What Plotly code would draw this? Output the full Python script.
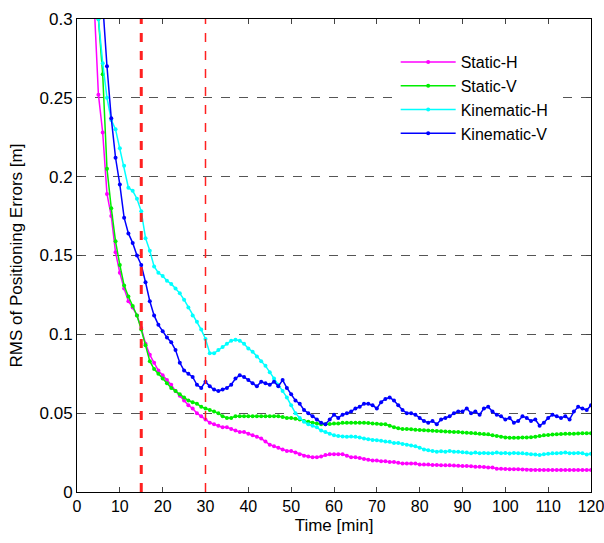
import plotly.graph_objects as go

# ---- data ----
time_min = list(range(3, 121))

static_h = [0.40, 0.31, 0.252, 0.228, 0.189, 0.175, 0.152, 0.139, 0.129, 0.121,
            0.117, 0.112, 0.104, 0.094, 0.087, 0.082, 0.077, 0.074, 0.071, 0.068,
            0.064, 0.061, 0.058, 0.055, 0.053, 0.050, 0.048, 0.046, 0.044, 0.043,
            0.042, 0.041, 0.041, 0.040, 0.039, 0.038, 0.038, 0.037, 0.036, 0.035,
            0.034, 0.032, 0.030, 0.029, 0.028, 0.027, 0.026, 0.026, 0.025, 0.024,
            0.023, 0.0225, 0.022, 0.022, 0.0225, 0.0235, 0.024, 0.024, 0.024, 0.024,
            0.023, 0.022, 0.022, 0.0215, 0.021, 0.0205, 0.020, 0.020, 0.0195, 0.0195,
            0.019, 0.019, 0.0185, 0.018, 0.018, 0.018, 0.018, 0.0175, 0.0175, 0.0175,
            0.0172, 0.0172, 0.017, 0.017, 0.017, 0.0168, 0.0167, 0.0165, 0.0165, 0.0163,
            0.016, 0.016, 0.0158, 0.0155, 0.0155, 0.0148, 0.0147, 0.0146, 0.0145, 0.0145,
            0.0145, 0.0142, 0.0141, 0.014, 0.014, 0.014, 0.014, 0.014, 0.014, 0.014,
            0.014, 0.014, 0.014, 0.014, 0.014, 0.014, 0.014, 0.014]

static_v = [0.45, 0.37, 0.30, 0.265, 0.205, 0.180, 0.159, 0.144, 0.131, 0.124,
            0.118, 0.112, 0.103, 0.093, 0.083, 0.078, 0.075, 0.072, 0.069, 0.066,
            0.064, 0.062, 0.060, 0.058, 0.057, 0.056, 0.054, 0.053, 0.052, 0.051,
            0.050, 0.048, 0.047, 0.047, 0.048, 0.048, 0.048, 0.048, 0.048, 0.048,
            0.048, 0.048, 0.048, 0.048, 0.048, 0.0475, 0.047, 0.047, 0.0465, 0.046,
            0.045, 0.0445, 0.044, 0.0435, 0.043, 0.043, 0.0432, 0.0435, 0.0435, 0.044,
            0.044, 0.044, 0.044, 0.044, 0.044, 0.0438, 0.0435, 0.0433, 0.043, 0.043,
            0.042, 0.041, 0.0405, 0.040, 0.040, 0.0398, 0.0395, 0.0393, 0.0392, 0.039,
            0.0389, 0.0387, 0.0385, 0.0384, 0.0382, 0.0381, 0.038, 0.0378, 0.0376, 0.0374,
            0.0372, 0.037, 0.0368, 0.0366, 0.036, 0.0355, 0.035, 0.0346, 0.0344, 0.0344,
            0.0344, 0.0345, 0.0346, 0.0347, 0.035, 0.0355, 0.036, 0.0362, 0.0364, 0.0366,
            0.0368, 0.0369, 0.037, 0.037, 0.0371, 0.0372, 0.0372, 0.0372]

kinematic_h = [0.45, 0.36, 0.30, 0.272, 0.250, 0.236, 0.230, 0.218, 0.207, 0.193,
               0.191, 0.186, 0.178, 0.161, 0.153, 0.143, 0.139, 0.137, 0.134, 0.132,
               0.129, 0.126, 0.122, 0.117, 0.112, 0.108, 0.103, 0.097, 0.088, 0.088,
               0.090, 0.092, 0.094, 0.096, 0.0965, 0.096, 0.094, 0.091, 0.089, 0.086,
               0.083, 0.080, 0.076, 0.072, 0.068, 0.064, 0.060, 0.055, 0.050, 0.047,
               0.0445, 0.043, 0.042, 0.041, 0.039, 0.038, 0.037, 0.036, 0.0355, 0.0352,
               0.035, 0.0352, 0.035, 0.0345, 0.034, 0.0335, 0.033, 0.0328, 0.0325, 0.032,
               0.0318, 0.031, 0.031, 0.0305, 0.030, 0.0295, 0.029, 0.028, 0.027, 0.0265,
               0.026, 0.0256, 0.0258, 0.0255, 0.026, 0.0255, 0.0256, 0.0252, 0.025, 0.0245,
               0.025, 0.0245, 0.0248, 0.0245, 0.0246, 0.025, 0.0245, 0.0248, 0.0244, 0.0248,
               0.0245, 0.0246, 0.0243, 0.024, 0.0238, 0.0235, 0.024, 0.0243, 0.0245, 0.0246,
               0.0248, 0.025, 0.0246, 0.0245, 0.0248, 0.0246, 0.0238, 0.0242]

kinematic_v = [0.50, 0.42, 0.36, 0.31, 0.270, 0.237, 0.212, 0.195, 0.174, 0.164,
               0.158, 0.150, 0.144, 0.133, 0.121, 0.112, 0.106, 0.102, 0.098, 0.095,
               0.090, 0.082, 0.077, 0.075, 0.073, 0.068, 0.066, 0.070, 0.067, 0.065,
               0.064, 0.065, 0.066, 0.068, 0.072, 0.074, 0.073, 0.071, 0.069, 0.067,
               0.070, 0.069, 0.068, 0.070, 0.067, 0.071, 0.066, 0.062, 0.058, 0.056,
               0.052, 0.050, 0.048, 0.046, 0.044, 0.043, 0.046, 0.049, 0.047, 0.049,
               0.050, 0.051, 0.053, 0.054, 0.056, 0.056, 0.055, 0.053, 0.057, 0.059,
               0.060, 0.058, 0.055, 0.052, 0.050, 0.050, 0.049, 0.047, 0.045, 0.044,
               0.045, 0.043, 0.046, 0.047, 0.048, 0.050, 0.051, 0.051, 0.053, 0.050,
               0.051, 0.049, 0.053, 0.054, 0.051, 0.049, 0.048, 0.046, 0.047, 0.044,
               0.045, 0.048, 0.047, 0.045, 0.046, 0.042, 0.044, 0.047, 0.049, 0.048,
               0.047, 0.048, 0.046, 0.051, 0.054, 0.053, 0.052, 0.055]

series_names = ["Static-H", "Static-V", "Kinematic-H", "Kinematic-V"]
series_colors = ["#ff00ff", "#00ee00", "#00ffff", "#0000ff"]
series_values = [static_h, static_v, kinematic_h, kinematic_v]

marker_lines = [15, 30]          # vertical reference lines [min]
marker_widths = [3, 1.5]

x_ticks = list(range(0, 121, 10))
y_ticks = [0, 0.05, 0.1, 0.15, 0.2, 0.25, 0.3]
y_tick_text = ["0", "0.05", "0.1", "0.15", "0.2", "0.25", "0.3"]

FONT = "Liberation Sans, Arial, Helvetica, sans-serif"

fig = go.Figure()
for name, color, vals in zip(series_names, series_colors, series_values):
    fig.add_trace(go.Scatter(
        x=time_min, y=vals, name=name, mode="lines+markers",
        line=dict(color=color, width=1.5),
        marker=dict(color=color, size=4),
    ))

for xv, w in zip(marker_lines, marker_widths):
    fig.add_shape(type="line", xref="x", yref="paper", x0=xv, x1=xv, y0=0, y1=1,
                  line=dict(color="#ff2020", width=w, dash="dash"), layer="above")

fig.update_layout(
    width=604, height=543,
    margin=dict(l=77, r=13, t=19, b=51, autoexpand=False),
    paper_bgcolor="white", plot_bgcolor="white",
    font=dict(family=FONT, size=17, color="black"),
    showlegend=True,
    legend=dict(x=0.62, y=0.945, xanchor="left", yanchor="top",
                bgcolor="white", borderwidth=0,
                font=dict(family=FONT, size=16, color="black"),
                tracegroupgap=0, itemwidth=55),
)
fig.update_xaxes(
    range=[0, 120], tickvals=x_ticks, ticks="inside", ticklen=5,
    showline=True, linecolor="black", linewidth=1, mirror="ticks",
    showgrid=False, zeroline=False, automargin=False,
    ticklabeloverflow="allow",
    title=dict(text="Time [min]", standoff=4, font=dict(size=17)),
    tickfont=dict(size=16),
)
fig.update_yaxes(
    range=[0, 0.3], tickvals=y_ticks, ticktext=y_tick_text, ticks="inside", ticklen=5,
    showline=True, linecolor="black", linewidth=1, mirror="ticks",
    showgrid=True, gridcolor="#555555", gridwidth=1, griddash="dash",
    zeroline=False, automargin=False,
    ticklabeloverflow="allow",
    title=dict(text="RMS of Positioning Errors [m]", standoff=12, font=dict(size=17)),
    tickfont=dict(size=17),
)

fig.write_html(
    "out.html",
    config={"displayModeBar": False},
    post_script="document.body.style.margin='0';document.body.style.overflow='hidden';",
)
